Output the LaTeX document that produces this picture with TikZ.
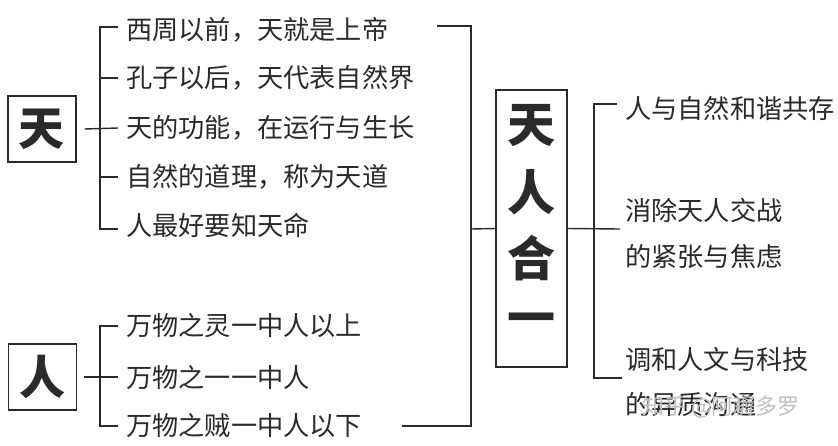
\documentclass[tikz,border=0pt]{standalone}
\usepackage{fontspec}
\newfontfamily\cjk{Noto Sans CJK SC}
\definecolor{ink}{HTML}{2A2A2A}
\begin{document}
\begin{tikzpicture}[x=1pt,y=-1pt,
  ln/.style={draw=ink,line width=1.4pt},
  item/.style={anchor=west,inner sep=0pt,text=ink,font=\cjk\fontsize{26.2}{26}\selectfont},
  bigbox/.style={draw=ink,line width=1.3pt,inner sep=0pt,minimum width=68pt,minimum height=66pt,font=\cjk\bfseries\fontsize{46}{46}\selectfont,text=ink},
  bigch/.style={inner sep=0pt,font=\cjk\bfseries\fontsize{48}{48}\selectfont,text=ink}]
\useasboundingbox (0,0) rectangle (838,445);
\fill[white] (0,0) rectangle (838,445);
% left boxes
\node[bigbox] (tian) at (42,129) {天};
\node[bigbox] (ren) at (42.5,377) {人};
% items of 天
\node[item] (t1) at (126,30) {西周以前，天就是上帝};
\node[item] (t2) at (126,78) {孔子以后，天代表自然界};
\node[item] (t3) at (126,128) {天的功能，在运行与生长};
\node[item] (t4) at (126,177) {自然的道理，称为天道};
\node[item] (t5) at (126,225) {人最好要知天命};
% items of 人
\node[item] (r1) at (126,326) {万物之灵一中人以上};
\node[item] (r2) at (126,377) {万物之一一中人};
\node[item] (r3) at (126,426) {万物之贼一中人以下};
% bracket 天
\coordinate (b1t) at (100,27);
\coordinate (b1b) at (100,229);
\draw[ln] (118,27) -- (b1t) -- (b1b) -- (118,229);
\draw[ln] (100,78) -- (118,78);
\draw[ln] (100,177) -- (118,177);
\draw[ln] (tian.east) ++(8,0) -- (118,128);
% bracket 人
\draw[ln] (118,326) -- (100,326) -- (100,426) -- (118,426);
\draw[ln] (ren.east) ++(7,0) -- (118,377);
% big bracket
\draw[ln] (437,26) -- (471,26) -- (471,426) -- (402,426);
% 天人合一 box
\node[draw=ink,line width=1.3pt,minimum width=71pt,minimum height=277pt,inner sep=0pt] (tr) at (531.5,228.5) {};
\node[bigch] (c1) at (531.5,126) {天};
\node[bigch] (c2) at (531.5,192) {人};
\node[bigch] (c3) at (531.5,258) {合};
\node[bigch] (c4) at (531.5,324) {一};
\draw[ln] (471,229) -- (tr.west);
\draw[ln] (tr.east) -- (620,229);
% right bracket
\draw[ln] (617,104) -- (594,104) -- (594,378) -- (622,378);
% right items
\node[item] (s1) at (625,108) {人与自然和谐共存};
\node[item] (s2) at (625,210) {消除天人交战};
\node[item] (s3) at (625,257) {的紧张与焦虑};
\node[item] (s4) at (625,359) {调和人文与科技};
\node[item] (s5) at (625,405) {的异质沟通};
\node[anchor=west,inner sep=0pt,text=black!25,font=\cjk\fontsize{22}{22}\selectfont] (wm) at (642,407) {知乎 @阿耨多罗};
\end{tikzpicture}
\end{document}
